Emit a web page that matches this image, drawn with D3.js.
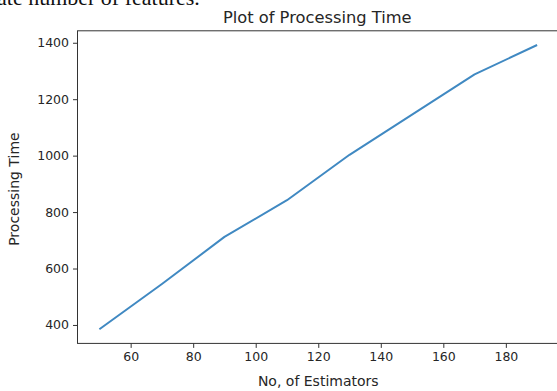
<!DOCTYPE html>
<html>
<head>
<meta charset="utf-8">
<script src="https://cdn.jsdelivr.net/npm/d3@7"></script>
<style>
  html, body { margin: 0; padding: 0; background: #fff; }
  svg { display: block; }
  text { font-family: "DejaVu Sans", sans-serif; fill: #262626; }
</style>
</head>
<body>
<svg id="chart" width="557" height="391"></svg>
<script>
// Number of estimators vs. measured processing time
const estimators = [50, 70, 90, 110, 130, 150, 170, 190];
const processingTime = [385, 545, 712, 842, 1003, 1145, 1288, 1392];
const xTicks = [60, 80, 100, 120, 140, 160, 180];
const yTicks = [400, 600, 800, 1000, 1200, 1400];

const svg = d3.select("#chart");
const plot = { left: 77.5, right: 559, top: 30.8, bottom: 343.4 };

// Axis limits padded by 5% of the data range on each side
const xPad = (d3.max(estimators) - d3.min(estimators)) * 0.05;
const yPad = (d3.max(processingTime) - d3.min(processingTime)) * 0.05;

const x = d3.scaleLinear()
  .domain([d3.min(estimators) - xPad, d3.max(estimators) + xPad])
  .range([plot.left, plot.right]);
const y = d3.scaleLinear()
  .domain([d3.min(processingTime) - yPad, d3.max(processingTime) + yPad])
  .range([plot.bottom, plot.top]);

// Text line above the figure (caption from surrounding document)
svg.append("text")
  .attr("x", -3).attr("y", 5)
  .style("font-family", "'Liberation Serif', serif")
  .style("font-size", "22px")
  .style("fill", "#111")
  .text("ate number of features.");

// Data line
const line = d3.line()
  .x((d, i) => x(estimators[i]))
  .y(d => y(d));
svg.append("path")
  .datum(processingTime)
  .attr("d", line)
  .attr("fill", "none")
  .attr("stroke", "#4089c2")
  .attr("stroke-width", 2)
  .attr("stroke-linejoin", "round");

// Axes
const fmt = d3.format("d");
const xAxis = d3.axisBottom(x).tickValues(xTicks).tickFormat(fmt).tickSize(4.5).tickPadding(4);
const yAxis = d3.axisLeft(y).tickValues(yTicks).tickFormat(fmt).tickSize(4.5).tickPadding(4);

const gx = svg.append("g")
  .attr("transform", `translate(0,${plot.bottom})`)
  .call(xAxis);
const gy = svg.append("g")
  .attr("transform", `translate(${plot.left},0)`)
  .call(yAxis);

[gx, gy].forEach(g => {
  g.select(".domain").remove();
  g.selectAll(".tick line").attr("stroke", "#333");
  g.selectAll(".tick text")
    .style("font-size", "12.5px")
    .style("fill", "#262626");
});

// Frame around the plotting area
svg.append("rect")
  .attr("x", plot.left).attr("y", plot.top)
  .attr("width", plot.right - plot.left)
  .attr("height", plot.bottom - plot.top)
  .attr("fill", "none")
  .attr("stroke", "#333")
  .attr("stroke-width", 1);

// Title and axis labels
svg.append("text")
  .attr("x", (plot.left + plot.right) / 2 - 1).attr("y", 23)
  .attr("text-anchor", "middle")
  .style("font-size", "16.3px")
  .text("Plot of Processing Time");

svg.append("text")
  .attr("x", (plot.left + plot.right) / 2).attr("y", 386)
  .attr("text-anchor", "middle")
  .style("font-size", "14px")
  .text("No, of Estimators");

svg.append("text")
  .attr("transform", `translate(19,${(plot.top + plot.bottom) / 2 + 2}) rotate(-90)`)
  .attr("text-anchor", "middle")
  .style("font-size", "14px")
  .text("Processing Time");
</script>
</body>
</html>
